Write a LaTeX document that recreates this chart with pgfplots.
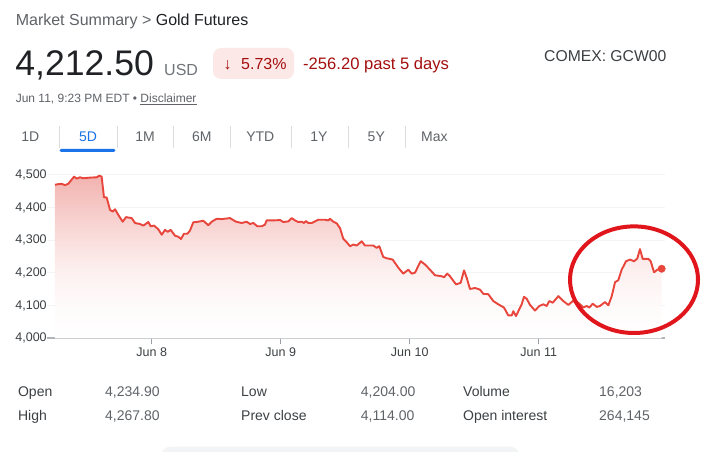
\documentclass[border=0pt]{standalone}
\usepackage{fontspec}
\setmainfont{Liberation Sans}
\usepackage{pgfplots}
\usepackage{pgfplotstable}
\pgfplotsset{compat=1.18}
\definecolor{linered}{HTML}{E8453C}
\definecolor{filltop}{HTML}{F2B3AF}
\definecolor{ellred}{HTML}{E0161C}
\definecolor{dark}{HTML}{202124}
\definecolor{gfive}{HTML}{5F6368}
\definecolor{gseven}{HTML}{70757A}
\definecolor{gthree}{HTML}{3C4043}
\definecolor{badge}{HTML}{FCE8E6}
\definecolor{badgetext}{HTML}{A50E0E}
\definecolor{gblue}{HTML}{1A73E8}
\definecolor{sepgray}{HTML}{DADCE0}
\definecolor{gridgray}{HTML}{F3F4F5}
\definecolor{axisgray}{HTML}{B0B3B8}
\definecolor{tickgray}{HTML}{9AA0A6}
\pgfdeclareverticalshading{goldfade}{100bp}{%
  color(0bp)=(white); color(25bp)=(white);
  color(35bp)=(filltop!6!white); color(45bp)=(filltop!18!white);
  color(55bp)=(filltop!42!white); color(65bp)=(filltop!70!white);
  color(75bp)=(filltop); color(100bp)=(filltop)}
\newcommand\fs[1]{\fontsize{#1}{#1}\selectfont}
\pgfplotstableread{
x y
7.250 4470
7.276 4472
7.302 4473
7.328 4469
7.353 4473
7.398 4495
7.419 4489
7.444 4493
7.470 4490
7.522 4492
7.574 4493
7.594 4498
7.612 4495
7.630 4432
7.651 4431
7.677 4393
7.698 4388
7.716 4395
7.741 4378
7.775 4357
7.801 4371
7.845 4368
7.871 4353
7.909 4350
7.935 4345
7.974 4356
7.992 4343
8.018 4345
8.051 4334
8.078 4317
8.103 4332
8.124 4326
8.147 4332
8.181 4314
8.206 4311
8.227 4304
8.250 4320
8.276 4320
8.297 4330
8.322 4355
8.361 4357
8.400 4360
8.439 4346
8.465 4357
8.504 4366
8.543 4365
8.607 4368
8.653 4357
8.698 4353
8.736 4357
8.762 4350
8.788 4353
8.819 4343
8.853 4343
8.878 4348
8.891 4361
8.943 4361
8.995 4362
9.020 4356
9.059 4358
9.085 4368
9.111 4361
9.136 4356
9.163 4357
9.181 4353
9.196 4359
9.214 4353
9.240 4353
9.291 4363
9.343 4363
9.369 4361
9.382 4366
9.408 4357
9.434 4352
9.460 4337
9.485 4305
9.512 4294
9.537 4282
9.563 4287
9.589 4284
9.628 4297
9.653 4284
9.718 4284
9.744 4277
9.764 4282
9.795 4249
9.822 4245
9.868 4241
9.912 4216
9.950 4198
9.989 4210
10.016 4198
10.041 4201
10.085 4236
10.119 4226
10.157 4210
10.196 4193
10.248 4190
10.266 4187
10.291 4198
10.312 4190
10.359 4165
10.395 4170
10.421 4208
10.442 4185
10.467 4151
10.506 4154
10.545 4149
10.571 4136
10.609 4135
10.648 4114
10.687 4104
10.731 4094
10.764 4070
10.791 4070
10.803 4083
10.824 4068
10.842 4083
10.868 4104
10.886 4127
10.907 4121
10.933 4102
10.971 4085
11.005 4099
11.036 4104
11.062 4099
11.082 4114
11.109 4109
11.152 4129
11.191 4114
11.230 4102
11.264 4114
11.307 4109
11.346 4094
11.372 4099
11.392 4094
11.419 4106
11.450 4096
11.475 4099
11.514 4111
11.540 4101
11.566 4129
11.592 4172
11.617 4178
11.643 4210
11.677 4236
11.708 4241
11.739 4236
11.764 4244
11.785 4273
11.806 4243
11.850 4243
11.868 4236
11.894 4202
11.919 4210
11.953 4213
}\golddata
\begin{document}
\begin{tikzpicture}[x=1pt,y=1pt]
\useasboundingbox (0,0) rectangle (701,452);
\fill[white] (0,0) rectangle (701,452);
% header
\node[anchor=base west,inner sep=0pt] at (15.6,426) {\fs{16}\color{gfive}Market Summary > \color{dark}Gold Futures};
\node[anchor=base west,inner sep=0pt] at (15.2,376.7) {\fs{35.6}\color{dark}4,212.50};
\node[anchor=base west,inner sep=0pt] at (164,376.7) {\fs{16}\color{gseven}USD};
\fill[badge, rounded corners=8pt] (213,373) rectangle (294,404);
\node[anchor=base west,inner sep=0pt] at (223.5,382.7) {\fs{16}\color{badgetext}↓};
\node[anchor=base west,inner sep=0pt] at (241,382.7) {\fs{16}\color{badgetext}5.73\%};
\node[anchor=base west,inner sep=0pt] at (303,382.7) {\fs{16.6}\color{badgetext}-256.20 past 5 days};
\node[anchor=base west,inner sep=0pt] at (544,390) {\fs{15.7}\color{gthree}COMEX: GCW00};
\node[anchor=base west,inner sep=0pt] at (15.6,349.3) {\fs{12}\color{gfive}Jun 11, 9:23 PM EDT • \underline{Disclaimer}};
% tabs
\foreach \xx/\lab in {30.4/1D,145/1M,201.8/6M,260.3/YTD,319/1Y,376.3/5Y,434.4/Max}
  \node[anchor=base,inner sep=0pt] at (\xx,310) {\fs{14}\color{gfive}\lab};
\node[anchor=base,inner sep=0pt] at (88,310) {\fs{14}\color{gblue}5D};
\foreach \xx in {59,117,173.5,230.7,291.7,348.3,405.7}
  \draw[sepgray, line width=1pt] (\xx,304) -- (\xx,326);
\fill[gblue, rounded corners=1.5pt] (59.5,300) rectangle (115.5,303);
% chart
\begin{axis}[
  at={(46.9pt,113.7pt)}, anchor=south west,
  scale only axis, width=618.1pt, height=163.3pt,
  xmin=7.1876, xmax=11.979, ymin=4000, ymax=4500,
  axis x line*=bottom, axis y line*=left,
  x axis line style={draw=axisgray, line width=2pt},
  y axis line style={draw=none},
  xtick={8,9,10,11}, xticklabels={Jun 8,Jun 9,Jun 10,Jun 11},
  ytick={4000,4100,4200,4300,4400,4500},
  ymajorgrids, grid style={gridgray, line width=1pt},
  tick align=outside, major tick length=6pt,
  xtick style={draw=tickgray, line width=1pt},
  ytick style={draw=none},
  ticklabel style={font=\fs{12.5}, color=gthree},
  yticklabel style={inner xsep=0pt, xshift=6pt},
  /pgf/number format/1000 sep={,},
  /pgf/number format/assume math mode=true,
  clip=false,
]
\addplot[draw=none, shading=goldfade, forget plot]
  table[x=x,y=y]{\golddata} -- (axis cs:11.953,4000) -- (axis cs:7.25,4000) -- cycle;
\addplot[linered, line width=1.9pt, line join=round, mark=none] table[x=x,y=y]{\golddata};
\addplot[only marks, mark=*, mark size=3.7pt, mark options={fill=linered, draw=linered}] coordinates {(11.953,4213)};
\end{axis}
% annotation ellipse
\draw[ellred, line width=4pt] (634,172.3) ellipse [x radius=64, y radius=53.3];
% stats
\foreach \xx/\yy/\lab in {17.9/55.3/Open, 17.9/31.3/High, 241/55.3/Low, 241/31.3/Prev close, 463/55.3/Volume, 463/31.3/Open interest}
  \node[anchor=base west,inner sep=0pt] at (\xx,\yy) {\fs{14}\color{gthree}\lab};
\foreach \xx/\yy/\lab in {105/55.3/{4,234.90}, 105/31.3/{4,267.80}, 360.7/55.3/{4,204.00}, 360.7/31.3/{4,114.00}, 599/55.3/{16,203}, 599/31.3/{264,145}}
  \node[anchor=base west,inner sep=0pt] at (\xx,\yy) {\fs{14}\color{gfive}\lab};
\fill[gridgray, rounded corners=10pt] (160.7,-12) rectangle (520,5.3);
\end{tikzpicture}
\end{document}
